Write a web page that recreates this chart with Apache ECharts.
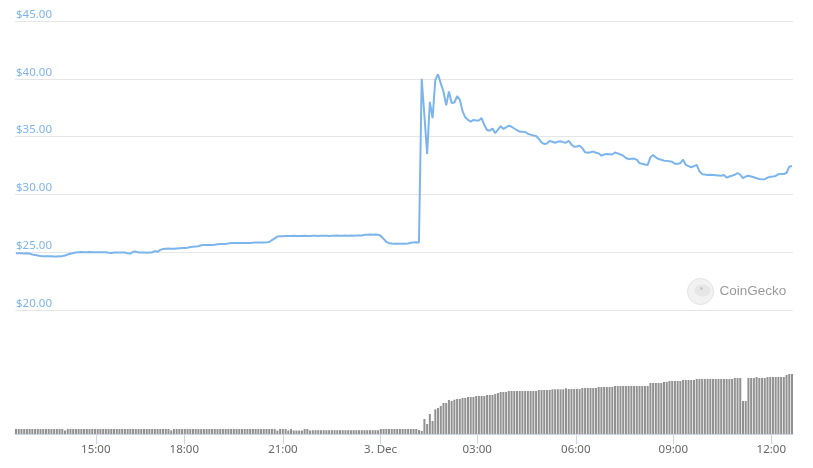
<!DOCTYPE html>
<html>
<head>
<meta charset="utf-8">
<script src="https://cdn.jsdelivr.net/npm/echarts@6/dist/echarts.min.js"></script>
<style>
html,body{margin:0;padding:0;background:#fff;}
#chart{width:813px;height:468px;}
</style>
</head>
<body>
<div id="chart"></div>
<script>
// Price (USD), one point per 5-minute sample (ordinal spacing)
const priceValues = [
24.90,24.91,24.90,24.89,24.90,24.88,
24.80,24.76,24.72,24.68,
24.66,24.65,24.64,24.65,24.63,24.62,24.64,24.66,
24.72,24.80,24.87,24.93,24.98,
25.00,25.01,25.00,25.00,25.01,25.00,25.00,24.99,25.00,25.00,25.00,
24.95,24.94,
24.97,24.97,24.98,24.97,24.97,
24.90,24.88,
25.04,25.05,
24.98,24.97,24.97,24.96,24.97,24.98,
25.10,25.03,
25.20,25.27,
25.30,25.31,25.30,25.29,25.32,
25.35,25.36,25.37,25.38,
25.45,25.48,25.50,25.52,
25.60,25.62,25.62,25.63,25.62,25.64,
25.68,25.70,25.71,25.72,25.76,
25.79,25.80,25.79,25.80,25.79,25.80,25.80,25.79,25.81,
25.83,25.84,25.84,25.83,25.85,
25.88,26.05,26.20,26.35,26.37,
26.38,26.40,26.41,26.40,26.42,26.41,26.40,26.41,26.42,26.40,26.41,26.43,26.42,26.41,26.42,26.43,26.42,26.41,26.43,
26.43,26.44,26.42,26.43,26.45,26.43,26.44,26.43,26.44,26.45,26.44,
26.50,26.52,26.53,26.52,26.53,26.52,
26.40,26.15,25.90,
25.78,25.75,25.74,25.73,25.74,25.73,25.74,25.76,
25.82,25.84,25.85,25.84,
40.00,36.80,33.50,38.00,36.60,39.90,40.40,39.60,38.90,37.70,
38.90,37.90,37.95,38.50,38.20,37.20,36.67,36.45,36.30,36.44,
36.40,36.40,36.60,36.00,35.57,35.50,35.70,35.30,35.60,35.90,
35.66,35.80,35.94,35.85,35.70,35.55,35.42,35.42,35.40,35.25,
35.17,35.10,35.05,34.80,34.50,34.36,34.40,34.62,34.55,34.47,
34.55,34.60,34.52,34.47,34.64,34.30,34.13,34.15,34.20,34.00,
33.65,33.60,33.65,33.70,33.60,33.55,33.35,33.45,33.50,33.48,
33.45,33.62,33.55,33.45,33.35,33.15,33.05,33.08,33.10,33.00,
32.70,32.65,32.58,32.55,33.20,33.40,33.20,33.06,33.00,32.92,
32.90,32.86,32.83,32.65,32.65,32.70,33.00,32.55,32.45,32.35,
32.45,32.55,32.00,31.75,31.72,31.68,31.70,31.68,31.66,31.64,
31.62,31.68,31.45,31.55,31.62,31.70,31.85,31.70,31.40,31.55,
31.62,31.55,31.48,31.40,31.33,31.30,31.32,31.45,31.53,31.55,
31.60,31.75,31.77,31.77,31.85,32.40,32.45
];

// Total volume (M USD, relative), one bar per sample
const volumeValues = [
5,5,5,5,5,5,5,5,5,5,5,5,5,5,5,5,5,5,
3.5,
5,5,5,5,5,5,5,5,5,5,5,5,5,5,5,5,5,5,5,5,5,5,5,5,5,5,5,5,5,5,5,5,5,5,5,5,5,5,
3.5,
5,5,5,5,5,5,5,5,5,5,5,5,5,5,5,5,5,5,5,5,5,5,5,5,5,5,5,5,5,5,5,5,5,5,5,5,5,5,
3.5,
5,5,5,
3.5,
5,
3.5,3.5,3.5,3.5,
5,5,
3.5,
3.8,3.8,3.8,3.8,3.8,3.8,3.8,3.8,3.8,3.8,3.8,3.8,3.8,3.8,3.8,3.8,3.8,3.8,3.8,3.8,3.8,3.8,3.8,3.8,3.8,
5,5,5,5,5,5,5,5,5,5,5,5,5,5,
4,
3,15,10,20,13,24.7,26,28,31,31,34,33,34.3,35,35,36,36,37,37,37,38,38,38,38,39,39,39,40,41,42,42,42,
43,43,43,43,43,43,43,43,43,43,43,
44,44,44,44,44,
44.7,44.7,44.7,44.7,44.7,
45.7,
45,45,45,45,45,
46,46,46,46,46,46,
47,47,47,47,47,47,
48,48,48,48,48,48,48,48,48,48,48,48,48,
51,51,51,51,51,
52,52,
53,53,53,53,53,
54,54,54,54,54,
55,55,55,55,55,55,55,55,55,55,55,55,55,55,
56,56,56,
33,33,
56,56,56,
57,
56,56,56,
57,57,57,57,57,57,57,
59,
60,60
];

// X tick positions (in sample index) and their labels
const tickPositions = [29.3, 61.8, 98, 133.9, 169.4, 205.6, 241.4, 277.4];
const tickLabels = ['15:00', '18:00', '21:00', '3. Dec', '03:00', '06:00', '09:00', '12:00'];

// Price axis
const priceMin = 20, priceMax = 45, priceStep = 5;

const xMin = -0.37, xMax = 285.37;

const chart = echarts.init(document.getElementById('chart'), null, {renderer: 'canvas'});
const FONT = '"Noto Sans", "Open Sans", sans-serif';

chart.setOption({
  animation: false,
  backgroundColor: '#ffffff',
  grid: [
    {left: 15, right: 20, top: 21, height: 289},
    {left: 15, right: 20, top: 334, bottom: 34}
  ],
  xAxis: [
    {type: 'value', gridIndex: 0, min: xMin, max: xMax, show: false},
    {
      type: 'value', gridIndex: 1, min: xMin, max: xMax,
      axisLine: {show: true, lineStyle: {color: '#ccd6eb', width: 1}},
      axisTick: {show: true, length: 10, lineStyle: {color: '#ccd6eb'}, customValues: tickPositions},
      axisLabel: {
        customValues: tickPositions, margin: 10,
        color: '#666666', fontFamily: FONT, fontSize: 11.5,
        formatter: function (v) {
          let best = 0, d = Infinity;
          tickPositions.forEach(function (p, k) { if (Math.abs(p - v) < d) { d = Math.abs(p - v); best = k; } });
          return tickLabels[best];
        }
      },
      splitLine: {show: false}
    }
  ],
  yAxis: [
    {
      type: 'value', gridIndex: 0, min: priceMin, max: priceMax, interval: priceStep,
      axisLine: {show: false}, axisTick: {show: false},
      splitLine: {show: true, lineStyle: {color: '#e6e6e6', width: 1}},
      axisLabel: {
        inside: true, margin: 1, verticalAlign: 'bottom', align: 'left',
        color: '#7cb5ec', fontFamily: FONT, fontSize: 11.5, lineHeight: 13,
        showMinLabel: true, showMaxLabel: true,
        formatter: function (v) { return '$' + v.toFixed(2); }
      }
    },
    {type: 'value', gridIndex: 1, min: 0, max: 100, show: false, splitLine: {show: false}}
  ],
  series: [
    {
      type: 'line', xAxisIndex: 0, yAxisIndex: 0,
      data: priceValues.map(function (v, i) { return [i, v]; }),
      showSymbol: false, symbol: 'none',
      lineStyle: {color: '#7cb5ec', width: 2},
      z: 3
    },
    {
      type: 'bar', xAxisIndex: 1, yAxisIndex: 1,
      data: volumeValues.map(function (v, i) { return [i, v]; }),
      barWidth: 2,
      itemStyle: {color: '#919191'}
    }
  ],
  graphic: [
    {
      type: 'group', left: 687, top: 278,
      children: [
        {type: 'circle', shape: {cx: 13, cy: 13, r: 13}, style: {fill: '#f2f2f2', stroke: '#e2e2e2', lineWidth: 1}},
        {type: 'ellipse', shape: {cx: 15, cy: 12, rx: 8, ry: 6}, style: {fill: '#e6e6e6'}},
        {type: 'circle', shape: {cx: 14, cy: 10, r: 1.5}, style: {fill: '#c8c8c8'}},
        {type: 'text', x: 32, y: 13, style: {text: 'CoinGecko', fill: '#9a9a9a', font: '13.5px "Liberation Sans", Arial, sans-serif', verticalAlign: 'middle'}}
      ]
    }
  ]
});
</script>
</body>
</html>
